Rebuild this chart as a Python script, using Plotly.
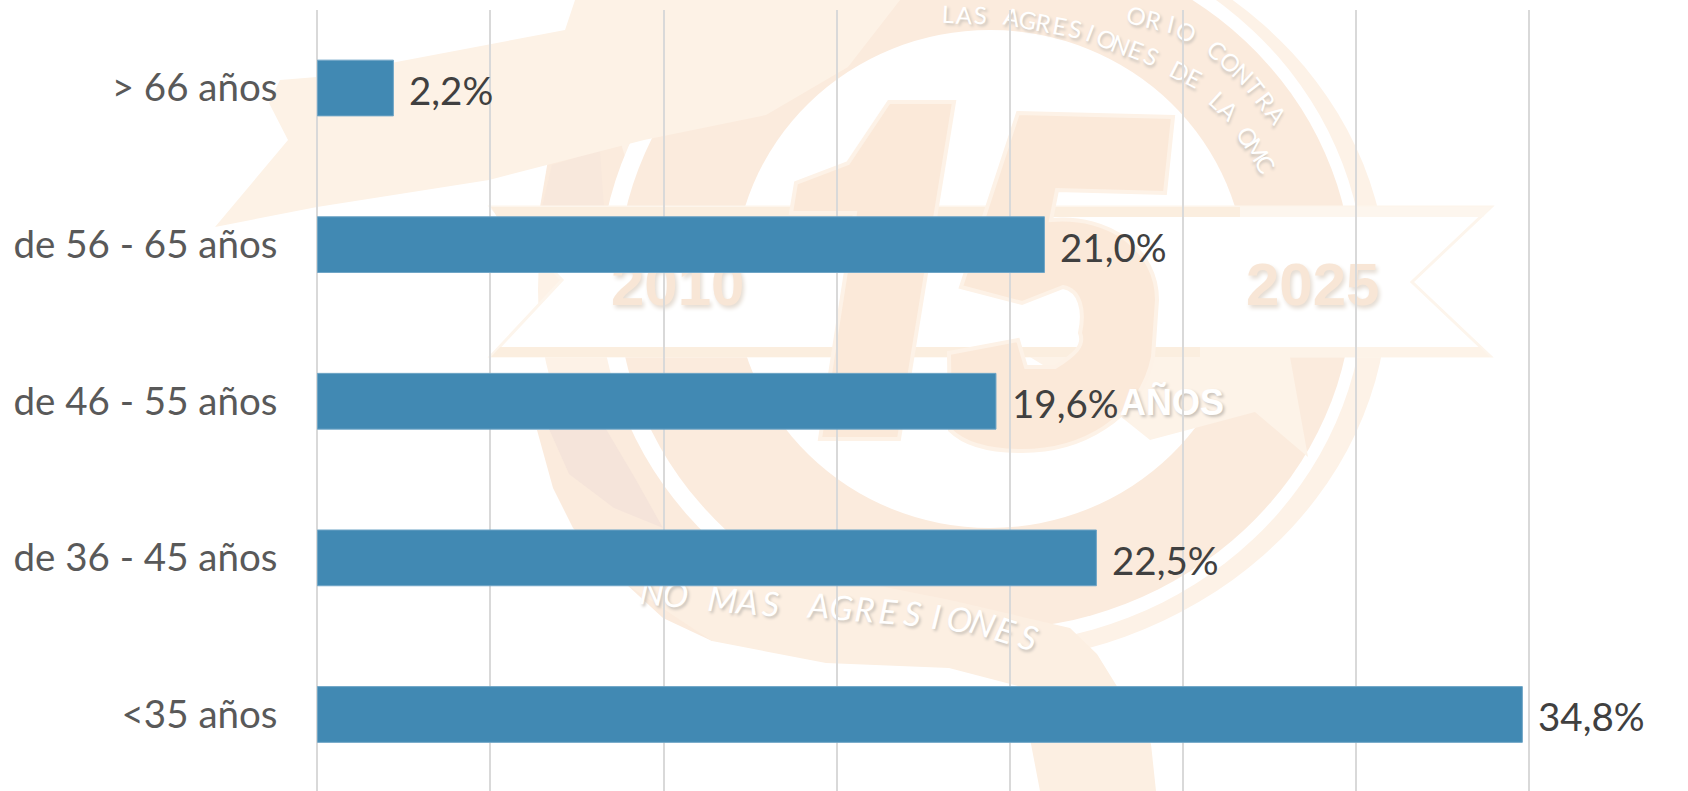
import math
import plotly.graph_objects as go

W, H = 1688, 791

# ---- chart data (bottom category first) ----
categories = ["<35 años", "de 36 - 45 años", "de 46 - 55 años", "de 56 - 65 años", "> 66 años"]
values = [34.8, 22.5, 19.6, 21.0, 2.2]
value_labels = ["34,8%", "22,5%", "19,6%", "21,0%", "2,2%"]

FONT = "Lato, Carlito, 'Open Sans', sans-serif"
BAR = "#4189B3"
RIBBON = "#FDF2E6"
BAND = "#FBEBDD"
DIGIT = "#FBE9D9"
DIGIT_EDGE = "#FDF2E7"


def px(x, y):
    return x / W, 1 - y / H


def poly(points, fill, line=None, lw=0):
    d = "M " + " L ".join("%.5f,%.5f" % px(*p) for p in points) + " Z"
    return dict(type="path", xref="paper", yref="paper", path=d, fillcolor=fill,
                line=dict(color=line or fill, width=lw), layer="below")


def ellipse(cx, cy, rx, ry, fill):
    x0, y0 = px(cx - rx, cy + ry)
    x1, y1 = px(cx + rx, cy - ry)
    return dict(type="circle", xref="paper", yref="paper", x0=x0, y0=y0, x1=x1, y1=y1,
                fillcolor=fill, line=dict(width=0), layer="below")


def path_px(cmds, fill, line=None, lw=0):
    out = []
    for c in cmds:
        if isinstance(c, str):
            out.append(c)
        else:
            out.append("%.5f,%.5f" % px(*c))
    return dict(type="path", xref="paper", yref="paper", path=" ".join(out), fillcolor=fill,
                line=dict(color=line or fill, width=lw), layer="below")


shapes = [
    ellipse(963, 290, 425, 375, "#FDF2E7"),
    poly([(540, 207), (548, 160), (620, 140), (640, 207)], BAND),
    poly([(537, 430), (553, 488), (573, 528), (626, 584), (663, 618), (712, 641), (800, 600), (650, 430)], BAND),
    ellipse(982, 285, 383, 360, "#FFFFFF"),
    ellipse(985, 285, 368, 345, BAND),
    ellipse(990, 279, 256, 249, "#FFFFFF"),
    poly([(549, 429), (569, 474), (614, 508), (663, 528), (635, 478), (606, 429)], "#F5E4DA"),
    poly([(542, 207), (552, 165), (600, 150), (604, 207)], "#F8E8DC"),
    # top-left ribbon
    poly([(269, 103), (288, 140), (215, 227), (317, 207), (489, 180), (644, 140), (766, 115),
          (848, 67), (900, 0), (575, 0), (565, 30), (317, 77), (280, 80)], RIBBON),
    # lower ribbon
    poly([(626, 584), (712, 641), (826, 663), (949, 668), (1018, 686), (1031, 744), (1040, 791),
          (1156, 791), (1151, 744), (1118, 688), (1097, 654), (1070, 628), (950, 600), (750, 560)], "#FCEFE2"),
    # central white banner
    poly([(491, 207), (1491, 207), (1412, 282), (1490, 356), (491, 356), (562, 280)], "#FFFFFF", "#FDF5EC", 3),
    poly([(491, 207), (1240, 207), (1240, 217), (497, 217)], "#FBEEDF"),
    poly([(1240, 207), (1491, 207), (1483, 217), (1240, 217)], "#FDF6EE"),
    poly([(500, 347), (1200, 347), (1200, 357), (491, 357)], "#FBEEDF"),
    poly([(1200, 347), (1480, 347), (1490, 357), (1200, 357)], "#FDF3E8"),
    # lower flourish below the banner
    poly([(1030, 357), (1290, 357), (1308, 457), (1255, 412), (1150, 440), (1100, 400)], "#FDF3E8"),
    # digit 1
    poly([(889, 102), (954, 102), (899, 439), (820, 439), (855, 213), (791, 213), (796, 183), (848, 163)],
         DIGIT, DIGIT_EDGE, 4),
    # digit 5
    path_px(["M", (1018, 113), "L", (1173, 117), "L", (1165, 193), "L", (1057, 190), "L", (1051, 220),
             "C", (1110, 215), (1157, 250), (1157, 300), "L", (1153, 357),
             "C", (1140, 420), (1080, 451), (1022, 451), "C", (990, 451), (965, 445), (950, 430),
             "L", (949, 353), "L", (1018, 340), "L", (1026, 367), "L", (1055, 367),
             "C", (1075, 355), (1085, 345), (1080, 333), "C", (1085, 310), (1080, 290), (1063, 287),
             "L", (1022, 303), "L", (961, 287), "Z"], DIGIT, DIGIT_EDGE, 4),
]

SHADOW = "2px 2px 3px #C9C2BA"


def letters_along(text, way, size, italic=False, family="Lato"):
    segs = [math.dist(way[i], way[i + 1]) for i in range(len(way) - 1)]
    total = sum(segs)
    out = []
    n = len(text)
    for k, ch in enumerate(text):
        s = total * (k + 0.5) / n
        i = 0
        while i < len(segs) - 1 and s > segs[i]:
            s -= segs[i]
            i += 1
        t = s / segs[i]
        (x0, y0), (x1, y1) = way[i], way[i + 1]
        x = x0 + (x1 - x0) * t
        y = y0 + (y1 - y0) * t
        ang = math.degrees(math.atan2(y1 - y0, x1 - x0))
        if ch == " ":
            continue
        xp, yp = px(x, y)
        out.append(dict(xref="paper", yref="paper", x=xp, y=yp, text=ch, showarrow=False,
                        textangle=ang, xanchor="center", yanchor="middle",
                        font=dict(family=family, size=size, color="#FFFFFF", shadow=SHADOW,
                                  style="italic" if italic else "normal")))
    return out


def big_text(text, x, y, size, color, shadow):
    xp, yp = px(x, y)
    return dict(xref="paper", yref="paper", x=xp, y=yp, text="<b>%s</b>" % text, showarrow=False,
                xanchor="center", yanchor="middle",
                font=dict(family="Liberation Sans", size=size, color=color, shadow=shadow))


watermark = [
    big_text("2010", 677, 284, 60, "#F8E6D6", "2px 3px 4px #E5DCD2"),
    big_text("2025", 1312, 284, 60, "#F8E6D6", "2px 3px 4px #E5DCD2"),
    big_text("AÑOS", 1172, 402, 36, "#FFFFFF", SHADOW),
]
watermark += letters_along("LAS AGRESIONES DE LA OMC",
                           [(940, 13), (1010, 16), (1084, 30), (1150, 55), (1195, 78), (1235, 115), (1270, 170)], 24)
watermark += letters_along("ORIO CONTRA",
                           [(1128, 13), (1175, 24), (1215, 48), (1250, 80), (1282, 122)], 24)
watermark += letters_along("NO MAS AGRESIONES",
                           [(640, 590), (700, 596), (760, 602), (830, 605), (910, 612), (975, 620), (1040, 640)],
                           34, italic=True)
N_WATERMARK = len(watermark)

data_labels = [
    dict(x=v, y=c, xref="x", yref="y", text=t, showarrow=False, xanchor="left", yanchor="middle",
         xshift=14, yshift=-2, font=dict(family=FONT, size=38.5, color="#404040"))
    for c, v, t in zip(categories, values, value_labels)
]

fig = go.Figure(go.Bar(
    x=values, y=categories, orientation="h", width=0.356,
    marker=dict(color=BAR, line=dict(color="#6FA5C6", width=1)),
    hoverinfo="x+y",
))

fig.update_layout(
    width=W, height=H, margin=dict(l=0, r=0, t=0, b=0),
    paper_bgcolor="white", plot_bgcolor="rgba(0,0,0,0)", showlegend=False,
    shapes=shapes, annotations=watermark + data_labels,
    xaxis=dict(domain=[317.2 / W, 1536.2 / W], range=[0, 35.2], tick0=0, dtick=5, showticklabels=False,
               showgrid=True, gridcolor="#D9D9D9", gridwidth=1.5,
               zeroline=True, zerolinecolor="#D9D9D9", zerolinewidth=1.5, showline=False, ticks=""),
    yaxis=dict(domain=[0, 1 - 9.7 / H], type="category", categoryorder="array", categoryarray=categories,
               range=[-0.4885, 4.5], showgrid=False, zeroline=False, showline=False,
               ticks="outside", ticklen=31, tickcolor="rgba(0,0,0,0)",
               tickfont=dict(family=FONT, size=38.5, color="#595959")),
)

post = """
document.documentElement.style.overflow='hidden';
document.body.style.margin='0';
var below=document.querySelector('.main-svg .layer-below');
var holder=document.createElementNS('http://www.w3.org/2000/svg','g');
below.appendChild(holder);
document.querySelectorAll('.annotation').forEach(function(a){
  if(parseInt(a.getAttribute('data-index'))<%d){holder.appendChild(a);}
});
""" % N_WATERMARK

fig.write_html("out.html", post_script=post, config=dict(displayModeBar=False))
